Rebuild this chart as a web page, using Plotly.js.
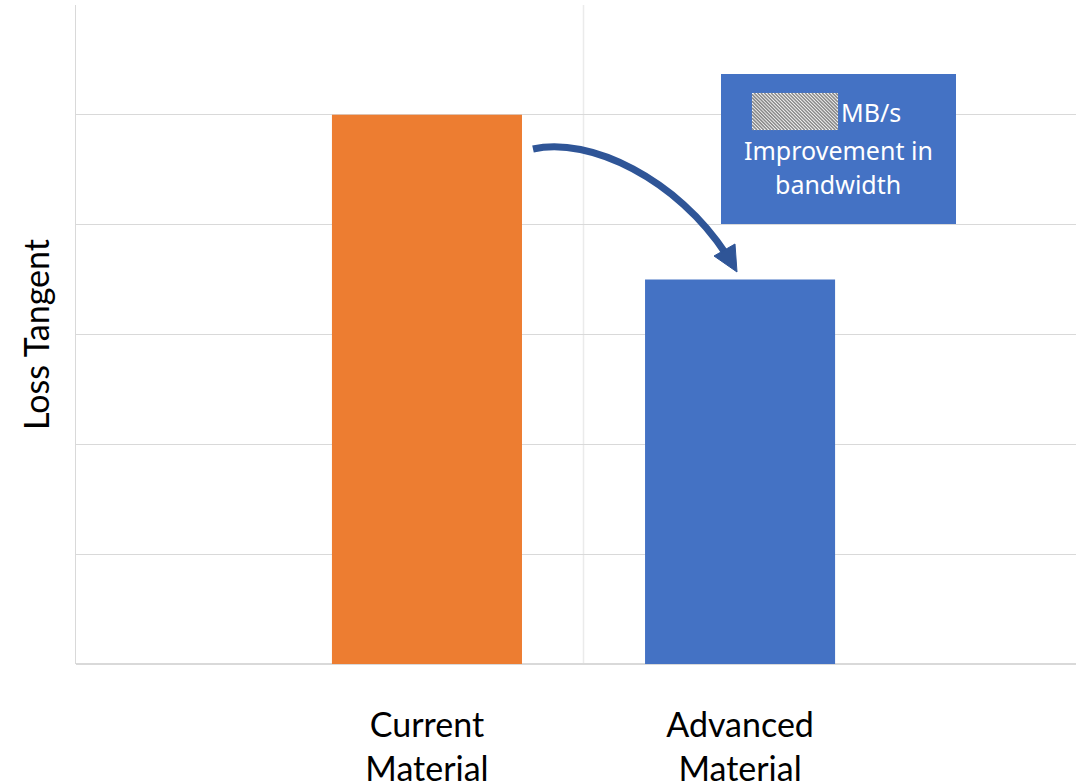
<!DOCTYPE html>
<html>
<head>
<meta charset="utf-8">
<script src="https://cdn.plot.ly/plotly-3.0.1.min.js"></script>
<style>
  html, body { margin: 0; padding: 0; background: #ffffff; }
  #chart { width: 1076px; height: 783px; }
</style>
</head>
<body>
<div id="chart"></div>
<script>
// Loss tangent of the two materials
const categories = ['Current<br>Material', 'Advanced<br>Material'];
const lossTangent = [5, 3.5];
const barColors = ['#ED7D31', '#4472C4'];

// Callout text
const calloutUnit = 'MB/s';
const calloutLines = ['Improvement in', 'bandwidth'];

const W = 1076, H = 783;
const M = { l: 76, r: 0, t: 5, b: 119 };
const plotW = W - M.l - M.r;
const plotH = H - M.t - M.b;
// pixel position inside the page -> paper coordinates
const px = v => (v - M.l) / plotW;
const py = v => (H - M.b - v) / plotH;
const P = (x, y) => px(x).toFixed(5) + ',' + py(y).toFixed(5);

const axisFont = { family: 'Lato, "Liberation Sans", sans-serif', size: 34, color: '#000000' };
const boxFont = { family: '"Noto Sans", "Open Sans", sans-serif', size: 25, color: '#ffffff' };

const trace = {
  type: 'bar',
  x: categories,
  y: lossTangent,
  width: 0.607,
  marker: { color: barColors, line: { width: 0 } },
  hoverinfo: 'skip'
};

// hatched placeholder before the unit text: diagonal strokes clipped to a box
function hatchPath(x0, y0, x1, y1, step) {
  const w = x1 - x0, h = y1 - y0;
  let d = '';
  for (let k = -h + step / 2; k < w; k += step) {
    let sx = x0 + k, sy = y0;
    if (k < 0) { sx = x0; sy = y0 - k; }
    let ex = x0 + k + h, ey = y1;
    if (ex > x1) { ex = x1; ey = y0 + (x1 - x0 - k); }
    d += 'M ' + P(sx, sy) + ' L ' + P(ex, ey) + ' ';
  }
  return d;
}
const hatchBox = [752, 93, 838, 130];

// curved arrow from the current bar to the advanced bar
const arrowPath = 'M ' + P(533, 149) + ' C ' + P(590, 136) + ' ' + P(678, 180) + ' ' + P(726, 254);
const headPath = 'M ' + P(714, 256) + ' L ' + P(737, 272) + ' L ' + P(735, 244) + ' Z';

const layout = {
  width: W,
  height: H,
  margin: M,
  paper_bgcolor: '#ffffff',
  plot_bgcolor: '#ffffff',
  showlegend: false,
  xaxis: {
    type: 'category',
    range: [-1.121, 2.073],
    showgrid: false,
    showline: false,
    zeroline: false,
    ticks: '',
    tickfont: axisFont,
    ticklabelstandoff: 38,
    fixedrange: true
  },
  yaxis: {
    range: [0, 6],
    dtick: 1,
    showgrid: true,
    gridcolor: '#d9d9d9',
    gridwidth: 1.3,
    showline: true,
    linecolor: '#d9d9d9',
    linewidth: 1.3,
    zeroline: true,
    zerolinecolor: '#d9d9d9',
    zerolinewidth: 1.5,
    showticklabels: false,
    ticks: '',
    title: { text: 'Loss Tangent', font: axisFont, standoff: 14 },
    automargin: false,
    fixedrange: true
  },
  shapes: [
    { type: 'line', layer: 'below', xref: 'x', yref: 'paper', x0: 0.5, x1: 0.5, y0: 0, y1: 1,
      line: { color: '#ebebeb', width: 1.5 } },
    { type: 'rect', xref: 'paper', yref: 'paper', x0: px(721), x1: px(956), y0: py(224), y1: py(74),
      fillcolor: '#4472C4', line: { width: 0 } },
    { type: 'rect', xref: 'paper', yref: 'paper',
      x0: px(hatchBox[0]), x1: px(hatchBox[2]), y0: py(hatchBox[3]), y1: py(hatchBox[1]),
      fillcolor: '#ffffff', line: { width: 0 } },
    { type: 'path', xref: 'paper', yref: 'paper',
      path: hatchPath(hatchBox[0], hatchBox[1], hatchBox[2], hatchBox[3], 3.4),
      line: { color: '#8c8c8c', width: 1.7 } },
    { type: 'path', xref: 'paper', yref: 'paper', path: arrowPath,
      line: { color: '#2F5597', width: 7 } },
    { type: 'path', xref: 'paper', yref: 'paper', path: headPath,
      fillcolor: '#2F5597', line: { color: '#2F5597', width: 1 } }
  ],
  annotations: [
    { xref: 'paper', yref: 'paper', x: px(839), y: py(112), xanchor: 'left', yanchor: 'middle',
      text: calloutUnit, showarrow: false, font: boxFont },
    { xref: 'paper', yref: 'paper', x: px(838), y: py(150), xanchor: 'center', yanchor: 'middle',
      text: calloutLines[0], showarrow: false, font: boxFont },
    { xref: 'paper', yref: 'paper', x: px(838), y: py(184), xanchor: 'center', yanchor: 'middle',
      text: calloutLines[1], showarrow: false, font: boxFont }
  ]
};

Plotly.newPlot('chart', [trace], layout, { staticPlot: true, displayModeBar: false });
</script>
</body>
</html>
